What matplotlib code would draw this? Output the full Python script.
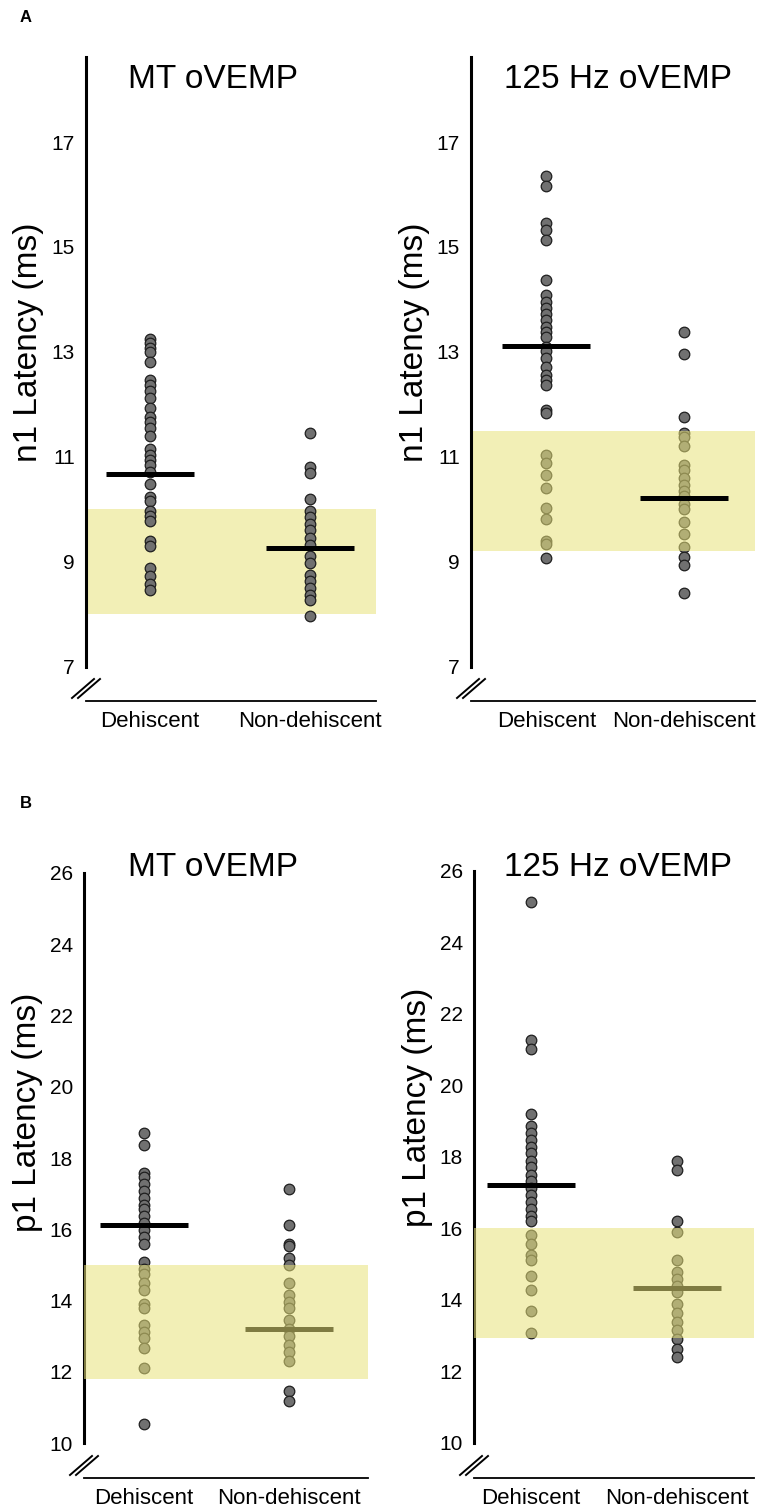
import numpy as np
import matplotlib
matplotlib.use("Agg")
import matplotlib.pyplot as plt

plt.rcParams['font.family'] = ['Liberation Sans', 'DejaVu Sans']

categories = ['Dehiscent', 'Non-dehiscent']

# A: n1 latency (ms)
n1_mt_dh = [13.24, 13.18, 13.08, 12.99, 12.80, 12.47, 12.38, 12.25, 12.12, 11.93, 11.77,
            11.67, 11.55, 11.39, 11.16, 11.03, 10.94, 10.84, 10.71, 10.49, 10.23, 10.17,
            9.97, 9.88, 9.78, 9.40, 9.30, 8.89, 8.73, 8.57, 8.47]
n1_mt_nd = [11.46, 10.81, 10.69, 10.19, 9.97, 9.86, 9.73, 9.60, 9.46, 9.33, 9.11, 8.98,
            8.76, 8.63, 8.50, 8.37, 8.28, 7.97]
n1_mt_means = [10.68, 9.27]
n1_mt_band = [8.0, 10.0]

n1_125_dh = [16.36, 16.17, 15.46, 15.32, 15.13, 14.37, 14.08, 13.96, 13.83, 13.73, 13.61,
             13.48, 13.39, 13.29, 13.10, 13.01, 12.88, 12.72, 12.56, 12.47, 12.37, 11.90,
             11.84, 11.04, 10.89, 10.66, 10.41, 10.03, 9.81, 9.40, 9.34, 9.08]
n1_125_nd = [13.38, 12.96, 11.76, 11.46, 11.38, 11.21, 10.84, 10.75, 10.60, 10.46, 10.36,
             10.25, 10.11, 10.00, 9.76, 9.54, 9.28, 9.09, 8.95, 8.40]
n1_125_means = [13.12, 10.22]
n1_125_band = [9.2, 11.5]

# B: p1 latency (ms)
p1_mt_dh = [18.69, 18.37, 17.59, 17.46, 17.27, 17.08, 16.88, 16.69, 16.56, 16.36, 16.17,
            15.98, 15.78, 15.59, 15.07, 14.88, 14.75, 14.49, 14.29, 13.91, 13.78, 13.32,
            13.13, 12.94, 12.68, 12.10, 10.54]
p1_mt_nd = [17.14, 16.11, 15.59, 15.52, 15.20, 15.01, 14.49, 14.17, 13.97, 13.78, 13.45,
            13.20, 13.00, 12.74, 12.55, 12.29, 11.45, 11.19]
p1_mt_means = [16.11, 13.20]
p1_mt_band = [11.8, 15.0]

p1_125_dh = [25.12, 21.27, 21.01, 19.20, 18.87, 18.68, 18.48, 18.29, 18.10, 17.90, 17.71,
             17.51, 17.32, 17.12, 16.93, 16.74, 16.54, 16.35, 16.22, 15.83, 15.57, 15.25,
             15.12, 14.66, 14.27, 13.69, 13.08]
p1_125_nd = [17.90, 17.64, 16.22, 15.89, 15.12, 14.79, 14.60, 14.40, 14.21, 13.89, 13.63,
             13.37, 13.17, 12.91, 12.63, 12.40]
p1_125_means = [17.23, 14.34]
p1_125_band = [12.95, 16.0]

W, H = 761, 1512
fig = plt.figure(figsize=(W / 100, H / 100), dpi=100)

point_col = '#707070'
band_col = '#e8e27a'

# (data, means, band, title, ylabel, rect in px [left, top, right, bottom], ylim, ticks, xlim, spine_min, band z)
panels = [
    ([n1_mt_dh, n1_mt_nd], n1_mt_means, n1_mt_band, 'MT oVEMP', 'n1 Latency (ms)',
     [86, 57, 376, 701], (6.35, 18.62), np.arange(7, 18, 2), (-0.40, 1.41), 7, 0.5),
    ([n1_125_dh, n1_125_nd], n1_125_means, n1_125_band, '125 Hz oVEMP', 'n1 Latency (ms)',
     [471, 57, 755, 701], (6.35, 18.62), np.arange(7, 18, 2), (-0.55, 1.52), 7, 2.5),
    ([p1_mt_dh, p1_mt_nd], p1_mt_means, p1_mt_band, 'MT oVEMP', 'p1 Latency (ms)',
     [84, 873, 368, 1478], (9.02, 26), np.arange(10, 27, 2), (-0.41, 1.54), 10, 4),
    ([p1_125_dh, p1_125_nd], p1_125_means, p1_125_band, '125 Hz oVEMP', 'p1 Latency (ms)',
     [474, 871, 754, 1478], (9.02, 26), np.arange(10, 27, 2), (-0.39, 1.53), 10, 4),
]
title_pos = [(213, 79), (618, 79), (213, 868), (618, 868)]
ylabel_y = [0.557, 0.557, 0.605, 0.61]

for k, (data, means, band, title, ylab, r, ylim, ticks, xlim, smin, bz) in enumerate(panels):
    ax = fig.add_axes([r[0] / W, 1 - r[3] / H, (r[2] - r[0]) / W, (r[3] - r[1]) / H])
    ax.set_xlim(*xlim)
    ax.set_ylim(*ylim)
    pxu = (r[2] - r[0]) / (xlim[1] - xlim[0])
    half = 44 / pxu
    for i, vals in enumerate(data):
        ax.scatter(np.full(len(vals), i), vals, s=58, c=point_col, edgecolors='#1e1e1e',
                   linewidths=0.9, zorder=2, clip_on=False)
        ax.hlines(means[i], i - half, i + half, colors='black', linewidth=3.6, zorder=3)
    ax.axhspan(band[0], band[1], color=band_col, alpha=0.55, lw=0, zorder=bz)

    for s in ['top', 'right']:
        ax.spines[s].set_visible(False)
    ax.spines['left'].set_bounds(smin, ylim[1])
    ax.spines['left'].set_linewidth(2.2)
    ax.spines['bottom'].set_linewidth(1.3)
    ax.set_yticks(ticks)
    ax.set_xticks([0, 1], categories)
    ax.tick_params(axis='y', length=0, pad=8, labelsize=15)
    ax.tick_params(axis='x', length=0, pad=7, labelsize=16)
    ax.set_ylabel(ylab, fontsize=24)
    ax.yaxis.set_label_coords(-0.145, ylabel_y[k])

    # axis break marks
    w, h = r[2] - r[0], r[3] - r[1]
    for off in (0, 6):
        ax.plot([(-14 + off) / w, (8 + off) / w], [3 / h, 22 / h], color='black', lw=1.4,
                transform=ax.transAxes, clip_on=False)

    fig.text(title_pos[k][0] / W, 1 - title_pos[k][1] / H, title, fontsize=24,
             ha='center', va='center')

fig.text(20 / W, 1 - 18 / H, 'A', fontsize=12, fontweight='bold', va='center')
fig.text(20 / W, 1 - 803 / H, 'B', fontsize=12, fontweight='bold', va='center')

fig.savefig('out.png', dpi=100)
